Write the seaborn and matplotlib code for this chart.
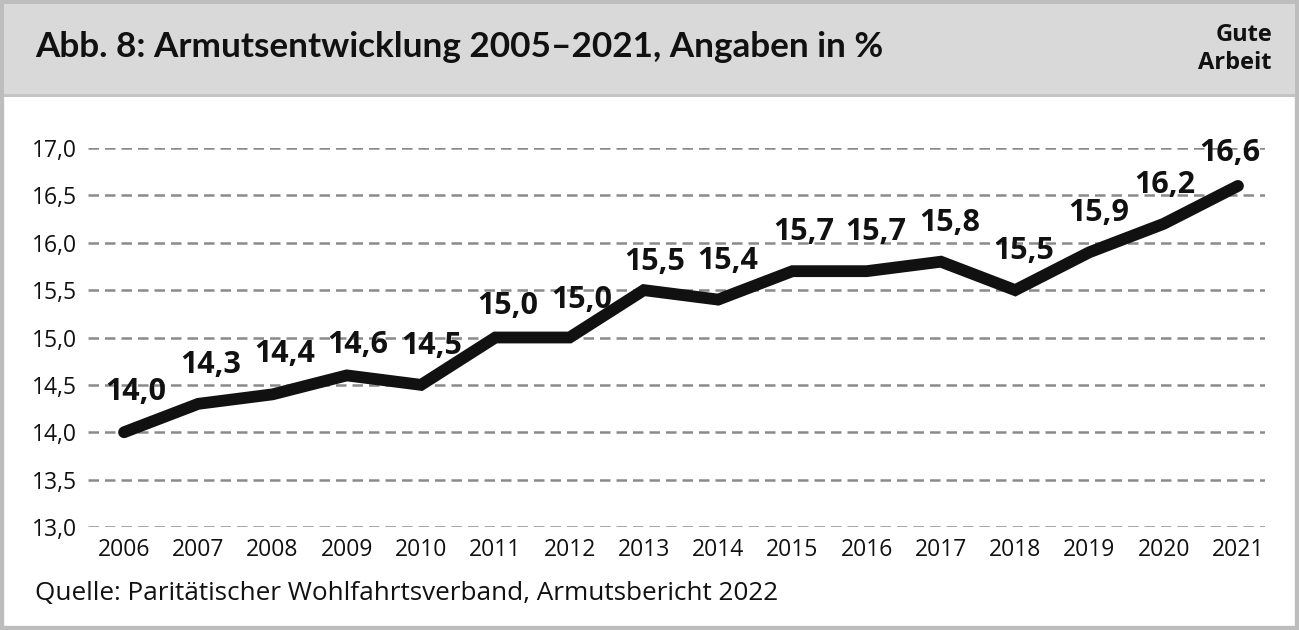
import matplotlib
matplotlib.use("Agg")
import matplotlib.pyplot as plt
from matplotlib.patches import Rectangle
import pandas as pd
import seaborn as sns

# Armutsquote in Deutschland, Angaben in %
years = [2006, 2007, 2008, 2009, 2010, 2011, 2012, 2013,
         2014, 2015, 2016, 2017, 2018, 2019, 2020, 2021]
rates = [14.0, 14.3, 14.4, 14.6, 14.5, 15.0, 15.0, 15.5,
         15.4, 15.7, 15.7, 15.8, 15.5, 15.9, 16.2, 16.6]
y_ticks = [13.0, 13.5, 14.0, 14.5, 15.0, 15.5, 16.0, 16.5, 17.0]

title = "Abb. 8: Armutsentwicklung 2005–2021, Angaben in %"
brand = "Gute\nArbeit"
source = "Quelle: Paritätischer Wohlfahrtsverband, Armutsbericht 2022"

# label placement relative to each point (pixels: right, up to the label centre)
label_shift = [(12, 43), (12, 42), (12, 43), (11, 33), (11, 42), (12, 34),
               (12, 40), (11, 31), (10, 42), (11, 42), (9, 42), (9, 42),
               (9, 42), (9, 42), (1, 42), (-8, 36)]

df = pd.DataFrame({"Jahr": years, "Quote": rates})

sns.set_theme(style="white")
plt.rcParams["font.family"] = ["Open Sans", "DejaVu Sans"]

W, H = 1299, 630
fig = plt.figure(figsize=(W / 100, H / 100), dpi=100)
fig.patch.set_facecolor("white")

# frame and header band
fig.add_artist(Rectangle((0, 0), 1, 1, transform=fig.transFigure,
                         facecolor="none", edgecolor="#bdbdbd", linewidth=6))
fig.add_artist(Rectangle((4 / W, 1 - 94 / H), 1 - 8 / W, 90 / H,
                         transform=fig.transFigure, facecolor="#d9d9d9",
                         edgecolor="none"))
fig.add_artist(Rectangle((4 / W, 1 - 97 / H), 1 - 8 / W, 3 / H,
                         transform=fig.transFigure, facecolor="#c4c4c4",
                         edgecolor="none"))

fig.text(35 / W, 1 - 47 / H, title, fontsize=25.3, fontweight="bold",
         family=["Lato", "DejaVu Sans"], ha="left", va="center",
         color="#111111")
fig.text(1272 / W, 1 - 49 / H, brand, fontsize=17, fontweight="bold",
         ha="right", va="center", color="#111111", linespacing=1.22)
fig.text(35 / W, 1 - 594 / H, source, fontsize=18.8, ha="left",
         va="center", color="#111111")

# plotting area
left, right = 88 / W, 1265 / W
bottom, top = 1 - 527 / H, 1 - 148 / H
ax = fig.add_axes([left, bottom, right - left, top - bottom])

sns.lineplot(data=df, x="Jahr", y="Quote", ax=ax, color="#111111",
             linewidth=8.5, solid_capstyle="round", solid_joinstyle="miter",
             zorder=3)

for (x, y), (dx, dy) in zip(zip(years, rates), label_shift):
    # baseline sits half a cap height below the label centre
    ax.annotate(f"{y:.1f}".replace(".", ","), (x, y), xytext=(dx, dy - 11),
                textcoords="offset pixels", ha="center", va="baseline",
                fontsize=22, fontweight="bold", color="#111111", zorder=4)

ax.set_xlim(2005.515, 2021.364)
ax.set_ylim(13.0, 17.0)
ax.set_yticks(y_ticks)
ax.set_yticklabels([f"{t:.1f}".replace(".", ",") for t in y_ticks])
ax.set_xticks(years)
ax.set_xticklabels([str(y) for y in years])
for yt in y_ticks:
    ax.axhline(yt, color="#8a8a8a", linewidth=1.8, linestyle=(0, (4.2, 2.4)),
               zorder=1)
ax.tick_params(axis="both", length=0, labelsize=16.5, colors="#111111")
ax.tick_params(axis="y", pad=8)
ax.tick_params(axis="x", pad=8)
ax.set_xlabel("")
ax.set_ylabel("")
ax.grid(False)
for s in ax.spines.values():
    s.set_visible(False)
ax.set_facecolor("none")

fig.savefig("out.png", dpi=100)
